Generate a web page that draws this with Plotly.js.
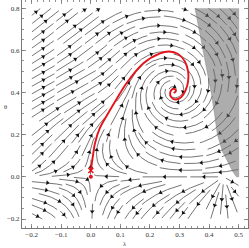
<!DOCTYPE html>
<html><head><meta charset="utf-8">
<script src="https://cdn.plot.ly/plotly-3.0.1.min.js"></script>
<style>html,body{margin:0;padding:0;background:#fff}#g{width:249px;height:248px}</style>
</head><body><div id="g"></div>
<script>
// ---- chart values ----
const xTicks=[-0.2,-0.1,0.0,0.1,0.2,0.3,0.4,0.5];
const yTicks=[-0.2,0.0,0.2,0.4,0.6,0.8];
const redX=[0.0,0.006,0.014,0.03,0.065,0.12,0.177,0.234,0.265,0.295,0.318,0.329,0.329,0.32,0.305,0.286,0.272,0.268,0.274,0.284,0.287,0.28];
const redY=[0.03,0.09,0.16,0.23,0.317,0.443,0.538,0.586,0.595,0.583,0.548,0.5,0.455,0.41,0.378,0.367,0.378,0.398,0.415,0.417,0.405,0.398];
const grayX=[0.352,0.366,0.38,0.394,0.407,0.418,0.428,0.445,0.462,0.48,0.492,0.5,0.5];
const grayY=[0.8,0.7,0.6,0.5,0.4,0.3,0.2,0.12,0.07,0.025,0.0,0.0,0.8];
const spiralCenter=[0.28,0.41];   // stable focus
const saddlePoint=[0.0,0.0];
const axisNode=[0.45,0.0];
// field shape parameters: [base inflow, extra inflow, its direction (deg), its width (deg), axis flattening px, saddle radius px]
const fieldShape=[0.2,2.2,197,30,16,30];
const plotDomain=[-0.2,0.5,-0.2,0.8];

// ---- geometry of plot area ----
const xr=[-0.2328,0.5314], yr=[-0.2427,0.8395];
const ML=22, MT=0, PW=226, PH=228;
const sx=PW/(xr[1]-xr[0]), sy=PH/(yr[1]-yr[0]);
const px=x=>(x-xr[0])*sx, py=y=>(yr[1]-y)*sy;
const dxv=X=>X/sx+xr[0], dyv=Y=>yr[1]-Y/sy;

const [Q0,QA,QPHI,QW,FLAT,RS]=fieldShape;
const PXI=spiralCenter[0]*sx, PETA=spiralCenter[1]*sy, XI0=axisNode[0]*sx;
function nrm(a,b){const m=Math.hypot(a,b); return m<1e-9?null:[a/m,b/m];}
function smooth(t){t=Math.max(0,Math.min(1,t));return t*t*(3-2*t);}
// direction field in pixel units, y up, origin at saddle point
function dirField(xi,eta){
  if(eta<0){ return nrm(-xi*(XI0-xi)/XI0, eta); }
  const a=xi-PXI, b=eta-PETA, r=Math.hypot(a,b);
  if(r<1e-6) return null;
  let phi=Math.atan2(b,a)*180/Math.PI; if(phi<0) phi+=360;
  const gq=Math.exp(-Math.pow((phi-QPHI)/QW,2));
  const q=Q0+smooth((r-30)/60)*QA*gq;
  const d=nrm(b/r-q*a/r, -a/r-q*b/r); if(!d) return null;
  const dx=d[0], dy=d[1]*Math.tanh(eta/FLAT);
  const rho=Math.hypot(xi,eta), ws=Math.exp(-Math.pow(rho/RS,2));
  const s=nrm(-xi,eta)||[0,0];
  return nrm((1-ws)*dx+ws*s[0], (1-ws)*dy+ws*s[1]);
}
const OX=px(0), OY=py(0);
function dirPx(X,Y){const d=dirField(X-OX, OY-Y); return d?[d[0],-d[1]]:null;}

const h=0.6, dsep=6.6, dtest=3.3, maxLen=22;
const X0p=px(plotDomain[0]), X1p=px(plotDomain[1]), Y0p=py(plotDomain[3]), Y1p=py(plotDomain[2]);
const cell=dsep, gw=Math.ceil(PW/cell)+2, gh=Math.ceil(PH/cell)+2;
const grid=[]; for(let i=0;i<gw*gh;i++) grid.push([]);
const gi=(X,Y)=>Math.floor(X/cell)+gw*Math.floor(Y/cell);
function close(X,Y,r){
  const cx=Math.floor(X/cell), cy=Math.floor(Y/cell);
  for(let i=cx-1;i<=cx+1;i++)for(let j=cy-1;j<=cy+1;j++){
    if(i<0||j<0||i>=gw||j>=gh) continue;
    for(const p of grid[i+gw*j]) if((p[0]-X)*(p[0]-X)+(p[1]-Y)*(p[1]-Y)<r*r) return true;
  }
  return false;
}
const fps=[[px(spiralCenter[0]),py(spiralCenter[1])],[px(saddlePoint[0]),py(saddlePoint[1])],[px(axisNode[0]),py(axisNode[1])]];
function inDom(X,Y){return X>=X0p&&X<=X1p&&Y>=Y0p&&Y<=Y1p;}
function nearFp(X,Y){for(const f of fps) if(Math.hypot(X-f[0],Y-f[1])<2.2) return true; return false;}
function integ(X,Y,s){
  const out=[]; let len=0;
  while(len<maxLen){
    const d1=dirPx(X,Y); if(!d1) break;
    const d2=dirPx(X+s*d1[0]*h/2,Y+s*d1[1]*h/2); if(!d2) break;
    const nx=X+s*d2[0]*h, ny=Y+s*d2[1]*h;
    if(!inDom(nx,ny)||close(nx,ny,dtest)||nearFp(nx,ny)) break;
    if(Y!==OY && ((Y<OY)!==(ny<OY))) break;
    out.push([nx,ny]); X=nx; Y=ny; len+=h;
  }
  return out;
}
const lines=[], queue=[];
function tryLine(X,Y){
  if(!inDom(X,Y)||close(X,Y,dsep)||nearFp(X,Y)) return;
  const f=integ(X,Y,1), b=integ(X,Y,-1);
  const pts=b.reverse().concat([[X,Y]],f);
  if(pts.length*h<5) return;
  for(const p of pts) grid[gi(p[0],p[1])].push(p);
  lines.push(pts);
  for(let k=0;k<pts.length;k+=Math.round(dsep/h)){
    const d=dirPx(pts[k][0],pts[k][1]); if(!d) continue;
    queue.push([pts[k][0]-d[1]*dsep,pts[k][1]+d[0]*dsep]);
    queue.push([pts[k][0]+d[1]*dsep,pts[k][1]-d[0]*dsep]);
  }
}
function drain(){while(queue.length){const s=queue.shift(); tryLine(s[0],s[1]);}}
tryLine(px(0.25),py(0)); drain();
for(let Y=Y0p+1;Y<=Y1p;Y+=dsep)for(let X=X0p+1;X<=X1p;X+=dsep){tryLine(X,Y);drain();}

const lx=[],ly=[],ax=[],ay=[],aa=[];
for(const pts of lines){
  for(const p of pts){lx.push(dxv(p[0]));ly.push(dyv(p[1]));}
  lx.push(null);ly.push(null);
  const k=Math.floor(pts.length/2);
  const d=dirPx(pts[k][0],pts[k][1]); if(!d) continue;
  ax.push(dxv(pts[k][0]));ay.push(dyv(pts[k][1]));
  aa.push(Math.atan2(d[0],-d[1])*180/Math.PI);
}

const red='#e3141b';
const traces=[
 {x:lx,y:ly,mode:'lines',line:{color:'#3a3a3a',width:0.7},hoverinfo:'skip'},
 {x:ax,y:ay,mode:'markers',marker:{symbol:'triangle-up',size:4.2,color:'#111',angle:aa,line:{width:0}},hoverinfo:'skip'},
 {x:grayX,y:grayY,mode:'lines',fill:'toself',fillcolor:'rgba(105,105,105,0.55)',line:{color:'rgba(120,120,120,0.8)',width:0.5},hoverinfo:'skip'},
 {x:redX,y:redY,mode:'lines',line:{color:red,width:1.9,shape:'spline',smoothing:0.8},hoverinfo:'skip'},
 {x:[0.0],y:[0.0],mode:'markers',marker:{symbol:'circle',size:4,color:red},hoverinfo:'skip'},
 {x:[0.0],y:[0.03],mode:'markers',marker:{symbol:'x-thin',size:5,color:red,line:{color:red,width:1.5}},hoverinfo:'skip'}
];
const axisCommon={showgrid:false,zeroline:false,showline:true,mirror:'allticks',linecolor:'#777',linewidth:1,
 ticks:'inside',ticklen:4,tickcolor:'#777',tickwidth:0.8,tickformat:'.1f',
 tickfont:{family:'Liberation Serif',size:7,color:'#333'}};
const layout={width:249,height:248,margin:{l:ML,r:249-ML-PW,t:MT,b:248-MT-PH},
 paper_bgcolor:'#fff',plot_bgcolor:'#fff',showlegend:false,
 xaxis:Object.assign({},axisCommon,{range:xr,tickvals:xTicks,minor:{dtick:0.02,ticklen:2,tickcolor:'#777',ticks:'inside'}}),
 yaxis:Object.assign({},axisCommon,{range:yr,tickvals:yTicks,minor:{dtick:0.05,ticklen:2,tickcolor:'#777',ticks:'inside'}}),
 annotations:[
  {text:'λ',xref:'paper',yref:'paper',x:(125-ML)/PW,y:(PH-243.5)/PH,yanchor:'middle',borderpad:0,showarrow:false,font:{family:'Liberation Serif',size:6.5,color:'#333'}},
  {text:'θ',xref:'paper',yref:'paper',x:(3-ML)/PW,y:(PH-106)/PH,borderpad:0,showarrow:false,font:{family:'Liberation Serif',size:6.5,color:'#333'}}
 ]};
Plotly.newPlot('g',traces,layout,{staticPlot:true,displayModeBar:false});
</script></body></html>
